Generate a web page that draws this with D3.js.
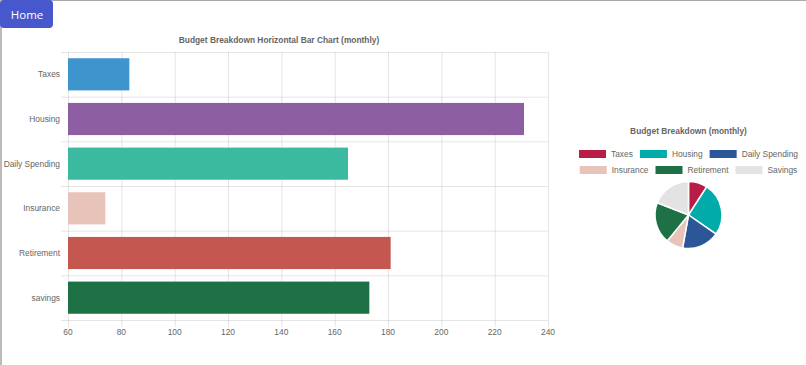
<!DOCTYPE html>
<html>
<head>
<meta charset="utf-8">
<script src="https://cdn.jsdelivr.net/npm/d3@7"></script>
<style>
  html, body { margin: 0; padding: 0; background: #fff; }
  svg { display: block; font-family: Arial, "Liberation Sans", sans-serif; }
</style>
</head>
<body>
<svg id="chart" width="806" height="365"></svg>
<script>
// data
var categories = ["Taxes", "Housing", "Daily Spending", "Insurance", "Retirement", "savings"];
var pieLabels = ["Taxes", "Housing", "Daily Spending", "Insurance", "Retirement", "Savings"];
var values = [83, 231, 165, 74, 181, 173];
var barColors = ["#3e95cd", "#8e5ea2", "#3cba9f", "#e8c3b9", "#c45850", "#1e7145"];
var pieColors = ["#b91d47", "#00aba9", "#2b5797", "#e8c3b9", "#1e7145", "#e3e3e3"];
var xTicks = [60, 80, 100, 120, 140, 160, 180, 200, 220, 240];

var svg = d3.select("#chart");
var grid = "rgba(0,0,0,0.1)", txt = "#666", fs = 8.4;

// page frame
svg.append("line").attr("x1", 0).attr("x2", 806).attr("y1", 0.5).attr("y2", 0.5)
    .attr("stroke", "#aaa");
svg.append("line").attr("x1", 1).attr("x2", 1).attr("y1", 0).attr("y2", 365)
    .attr("stroke", "#bbb").attr("stroke-width", 2);

// home button
svg.append("rect").attr("x", 0).attr("y", 0).attr("width", 53).attr("height", 28)
    .attr("rx", 4).attr("fill", "#4758cc");
svg.append("text").attr("x", 27).attr("y", 19).attr("text-anchor", "middle")
    .attr("fill", "#fff").style("font-family", "'Open Sans', sans-serif").style("font-size", "11.5px")
    .text("Home");

// ---- horizontal bar chart ----
var plotLeft = 68, plotRight = 548, plotTop = 52, plotBottom = 320;
var x = d3.scaleLinear().domain([60, 240]).range([plotLeft, plotRight]);
var y = d3.scaleBand().domain(categories).range([plotTop, plotBottom]).paddingInner(0.28).paddingOuter(0.14);
var step = y.step();

var g = svg.append("g");

// vertical grid
g.selectAll(".vg").data(xTicks).enter().append("line")
    .attr("x1", function(d) { return x(d) + 0.5; }).attr("x2", function(d) { return x(d) + 0.5; })
    .attr("y1", plotTop).attr("y2", plotBottom + 7)
    .attr("stroke", grid);

// horizontal grid at category boundaries
var bounds = d3.range(categories.length + 1);
g.selectAll(".hg").data(bounds).enter().append("line")
    .attr("x1", plotLeft - 7).attr("x2", plotRight)
    .attr("y1", function(i) { return plotTop + i * step + 0.5; })
    .attr("y2", function(i) { return plotTop + i * step + 0.5; })
    .attr("stroke", grid);

g.selectAll(".bar").data(values).enter().append("rect")
    .attr("x", x(60))
    .attr("y", function(d, i) { return y(categories[i]); })
    .attr("width", function(d) { return x(d) - x(60); })
    .attr("height", y.bandwidth())
    .attr("fill", function(d, i) { return barColors[i]; });

g.selectAll(".yl").data(categories).enter().append("text")
    .attr("x", plotLeft - 8)
    .attr("y", function(d) { return y(d) + y.bandwidth() / 2; })
    .attr("dy", "0.35em").attr("text-anchor", "end")
    .attr("fill", txt).style("font-size", fs + "px")
    .text(function(d) { return d; });

g.selectAll(".xl").data(xTicks).enter().append("text")
    .attr("x", function(d) { return x(d); }).attr("y", plotBottom + 12)
    .attr("dy", "0.35em").attr("text-anchor", "middle")
    .attr("fill", txt).style("font-size", fs + "px")
    .text(function(d) { return d; });

g.append("text").attr("x", (plotLeft + plotRight) / 2 - 29).attr("y", 40).attr("dy", "0.35em")
    .attr("text-anchor", "middle").attr("fill", txt)
    .style("font-size", fs + "px").style("font-weight", "bold")
    .text("Budget Breakdown Horizontal Bar Chart (monthly)");

// ---- pie chart ----
var cx = 688.5, cy = 215, r = 33.5;
var p = svg.append("g");

p.append("text").attr("x", cx).attr("y", 131).attr("dy", "0.35em")
    .attr("text-anchor", "middle").attr("fill", txt)
    .style("font-size", fs + "px").style("font-weight", "bold")
    .text("Budget Breakdown (monthly)");

// legend, two rows centred on the pie
var rows = [[0, 1, 2], [3, 4, 5]];
var rowY = [154, 170];
rows.forEach(function(row, ri) {
  var lg = p.append("g");
  var xpos = 0;
  row.forEach(function(i) {
    var it = lg.append("g").attr("transform", "translate(" + xpos + ",0)");
    it.append("rect").attr("x", 0).attr("y", rowY[ri] - 4).attr("width", 27).attr("height", 8)
        .attr("fill", pieColors[i]);
    var t = it.append("text").attr("x", 32).attr("y", rowY[ri]).attr("dy", "0.35em")
        .attr("fill", txt).style("font-size", fs + "px").text(pieLabels[i]);
    xpos += 32 + t.node().getComputedTextLength() + 7;
  });
  var w = xpos - 7;
  lg.attr("transform", "translate(" + (cx - w / 2) + ",0)");
});

var pie = d3.pie().sort(null)(values);
var arc = d3.arc().innerRadius(0).outerRadius(r);
p.append("g").attr("transform", "translate(" + cx + "," + cy + ")")
  .selectAll("path").data(pie).enter().append("path")
    .attr("d", arc)
    .attr("fill", function(d, i) { return pieColors[i]; })
    .attr("stroke", "#fff").attr("stroke-width", 1.5);
</script>
</body>
</html>
